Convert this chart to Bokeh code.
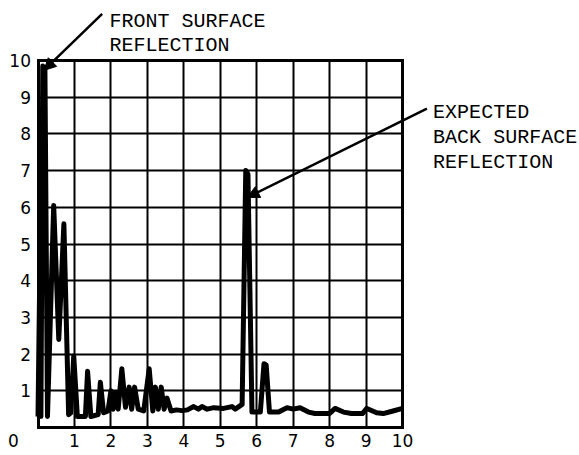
from bokeh.plotting import figure
from bokeh.models import Range1d, FixedTicker, Label, Arrow, NormalHead, LinearAxis
from bokeh.embed import file_html
from bokeh.resources import INLINE

# --- data ---
signal_x = [0.00, 0.04, 0.08, 0.13, 0.19, 0.26, 0.43, 0.57, 0.71, 0.84, 0.90, 0.98,
            1.08, 1.30, 1.36, 1.45, 1.65, 1.71, 1.80, 1.92, 2.00, 2.06, 2.12, 2.20,
            2.30, 2.40, 2.50, 2.57, 2.65, 2.75, 2.90, 3.05, 3.15, 3.22, 3.30, 3.38,
            3.46, 3.54, 3.65, 3.80, 3.95, 4.10, 4.27, 4.40, 4.50, 4.64, 4.82, 5.09,
            5.32, 5.41, 5.60, 5.70, 5.76, 5.87, 6.10, 6.20, 6.26, 6.35, 6.60, 6.83,
            7.00, 7.19, 7.42, 7.60, 8.00, 8.15, 8.38, 8.60, 8.90, 9.02, 9.29, 9.47,
            9.74, 10.00]
signal_y = [0.30, 3.50, 0.30, 9.85, 9.75, 0.30, 6.05, 2.40, 5.55, 0.35, 0.40, 1.95,
            0.30, 0.30, 1.53, 0.30, 0.35, 1.23, 0.40, 0.45, 1.00, 0.50, 0.95, 0.50,
            1.60, 0.55, 1.10, 0.50, 1.10, 0.50, 0.45, 1.60, 0.45, 1.10, 0.50, 1.10,
            0.50, 0.80, 0.45, 0.48, 0.46, 0.48, 0.57, 0.50, 0.57, 0.50, 0.54, 0.52,
            0.57, 0.50, 0.63, 7.00, 6.90, 0.42, 0.42, 1.74, 1.70, 0.42, 0.42, 0.54,
            0.50, 0.54, 0.42, 0.38, 0.38, 0.52, 0.42, 0.38, 0.38, 0.52, 0.40, 0.38,
            0.45, 0.52]
x_ticks = [0, 1, 2, 3, 4, 5, 6, 7, 8, 9, 10]
y_ticks = [1, 2, 3, 4, 5, 6, 7, 8, 9, 10]
front_label = ["FRONT SURFACE", "REFLECTION"]
back_label = ["EXPECTED", "BACK SURFACE", "REFLECTION"]

p = figure(width=579, height=455, output_backend="svg", toolbar_location=None,
           x_range=Range1d(-1.029, 14.856), y_range=Range1d(-0.763, 11.635),
           min_border=0)

p.outline_line_color = None
p.background_fill_color = "white"
p.border_fill_color = "white"

for g in (p.xgrid, p.ygrid):
    g.grid_line_color = "black"
    g.grid_line_width = 2
    g.grid_line_alpha = 1.0
    g.cross_bounds = (0, 10)

xa = p.xaxis[0]
ya = p.yaxis[0]
xa.fixed_location = 0
ya.fixed_location = 0
xa.ticker = FixedTicker(ticks=x_ticks)
ya.ticker = FixedTicker(ticks=y_ticks)
xa.major_label_overrides = {0: ""}

top_ax = LinearAxis(fixed_location=10, ticker=FixedTicker(ticks=[]))
right_ax = LinearAxis(fixed_location=10, ticker=FixedTicker(ticks=[]))
p.add_layout(top_ax, "above")
p.add_layout(right_ax, "right")

for ax in (xa, ya, top_ax, right_ax):
    ax.bounds = (0, 10)
    ax.axis_line_color = "black"
    ax.axis_line_width = 3
    ax.axis_line_cap = "square"
    ax.major_tick_out = 0
    ax.major_tick_in = 0
    ax.minor_tick_out = 0
    ax.minor_tick_in = 0
    ax.major_label_text_font = "DejaVu Sans"
    ax.major_label_text_font_size = "17px"
    ax.major_label_text_color = "black"
ya.major_label_standoff = 7
xa.major_label_standoff = 7

p.line(signal_x, signal_y, line_color="black", line_width=5, line_join="round")

# origin label shared by both axes, on the same row as the x tick labels
p.add_layout(Label(x=-0.672, y=0, y_offset=-7, text="0", text_font="DejaVu Sans",
                   text_font_size="17px", text_align="center",
                   text_baseline="top", text_color="black"))

font = "Liberation Mono"
fs = "20px"
for i, t in enumerate(front_label):
    p.add_layout(Label(x=1.96, y=11.06 - 0.66 * i, text=t, text_font=font,
                       text_font_size=fs, text_baseline="alphabetic", text_color="black"))
for i, t in enumerate(back_label):
    p.add_layout(Label(x=10.84, y=8.58 - 0.68 * i, text=t, text_font=font,
                       text_font_size=fs, text_baseline="alphabetic", text_color="black"))

p.add_layout(Arrow(end=NormalHead(size=12, fill_color="black", line_color="black"),
                   x_start=1.76, y_start=11.27, x_end=0.16, y_end=9.73,
                   line_width=2.5, line_color="black"))
p.add_layout(Arrow(end=NormalHead(size=12, fill_color="black", line_color="black"),
                   x_start=10.67, y_start=8.69, x_end=5.74, y_end=6.27,
                   line_width=2.5, line_color="black"))

open("out.html", "w").write(file_html(p, INLINE))
